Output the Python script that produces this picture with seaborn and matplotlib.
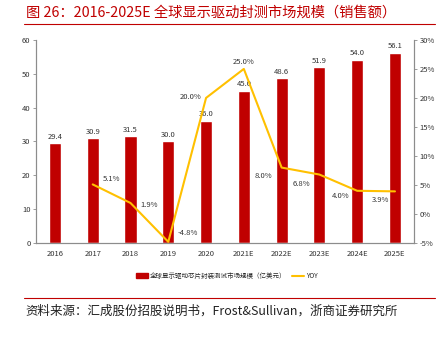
import matplotlib
matplotlib.use("Agg")
import matplotlib.pyplot as plt
import seaborn as sns
import numpy as np
import pandas as pd
from matplotlib.patches import Patch
from matplotlib.lines import Line2D

categories = ["2016", "2017", "2018", "2019", "2020", "2021E", "2022E", "2023E", "2024E", "2025E"]
market_size = [29.4, 30.9, 31.5, 30.0, 36.0, 45.0, 48.6, 51.9, 54.0, 56.1]
yoy_categories = ["2017", "2018", "2019", "2020", "2021E", "2022E", "2023E", "2024E", "2025E"]
yoy = [5.1, 1.9, -4.8, 20.0, 25.0, 8.0, 6.8, 4.0, 3.9]
left_ticks = [0, 10, 20, 30, 40, 50, 60]
right_ticks = [-5, 0, 5, 10, 15, 20, 25, 30]

title = "图 26：2016-2025E 全球显示驱动封测市场规模（销售额）"
source = "资料来源：汇成股份招股说明书，Frost&Sullivan，浙商证券研究所"
bar_label = "全球显示驱动芯片封装测试市场规模（亿美元）"
line_label = "YOY"

sns.set_theme(style="white")
plt.rcParams["font.family"] = ["Noto Sans CJK SC", "DejaVu Sans"]

RED = "#C00000"
GOLD = "#FFC000"
GREY = "#8c8c8c"

fig = plt.figure(figsize=(4.45, 3.38), dpi=100)
ax = fig.add_axes([0.081, 0.281, 0.849, 0.601])

bar_df = pd.DataFrame({"year": categories, "value": market_size})
sns.barplot(data=bar_df, x="year", y="value", color=RED, width=0.32,
            saturation=1, ax=ax, order=categories)
ax.set_ylim(0, 60)
ax.set_yticks(left_ticks)
ax.set_xlabel("")
ax.set_ylabel("")
for i, v in enumerate(market_size):
    ax.annotate(f"{v:.1f}", (i, v), xytext=(0, 2), textcoords="offset points",
                ha="center", va="bottom", fontsize=5.5, color="#333333")

ax2 = ax.twinx()
pos = [categories.index(c) for c in yoy_categories]
line_df = pd.DataFrame({"pos": pos, "yoy": yoy})
sns.lineplot(data=line_df, x="pos", y="yoy", color=GOLD, linewidth=1.5, ax=ax2)
ax2.set_ylim(-5, 30)
ax2.set_yticks(right_ticks)
ax2.set_yticklabels([f"{t}%" for t in right_ticks])
ax2.set_ylabel("")
ax2.set_xlabel("")
ax.set_xlim(-0.5, len(categories) - 0.5)

offsets = [(7, 3.6, "left"), (7, -1.5, "left"), (7, 6.5, "left"),
           (-3.6, 0.7, "right"), (0, 5, "center"), (-6.5, -5.8, "right"),
           (-6.5, -7, "right"), (-5.8, -3.6, "right"), (-4.3, -6.5, "right")]
for p, v, (dx, dy, ha) in zip(pos, yoy, offsets):
    ax2.annotate(f"{v:.1f}%", (p, v), xytext=(dx, dy), textcoords="offset points",
                 ha=ha, va="center", fontsize=5.5, color="#333333")

for a in (ax, ax2):
    a.spines["top"].set_visible(False)
    for s in ("left", "right", "bottom"):
        a.spines[s].set_color(GREY)
        a.spines[s].set_linewidth(0.8)
    a.tick_params(axis="both", labelsize=5.5, colors="#333333", length=2, width=0.6,
                  color=GREY, pad=2)
ax.tick_params(axis="x", length=0, pad=5)
ax.tick_params(axis="y", direction="out", left=True)
ax2.tick_params(axis="y", direction="out", right=True)

handles = [Patch(facecolor=RED, edgecolor=RED), Line2D([0], [0], color=GOLD, linewidth=1.5)]
fig.legend(handles, [bar_label, line_label], loc="center", bbox_to_anchor=(0.51, 0.183),
           ncol=2, frameon=False, fontsize=4.7, handlelength=1.8, handleheight=0.8,
           columnspacing=0.8, handletextpad=0.4)

fig.text(0.058, 0.964, title, fontsize=10.3, color=RED, ha="left", va="center")
fig.add_artist(Line2D([0.054, 0.978], [0.929, 0.929], color=RED, linewidth=0.8,
                      transform=fig.transFigure))
fig.add_artist(Line2D([0.054, 0.978], [0.118, 0.118], color=RED, linewidth=0.8,
                      transform=fig.transFigure))
fig.text(0.056, 0.080, source, fontsize=9, color="#222222", ha="left", va="center")

fig.savefig("out.png", dpi=100)
